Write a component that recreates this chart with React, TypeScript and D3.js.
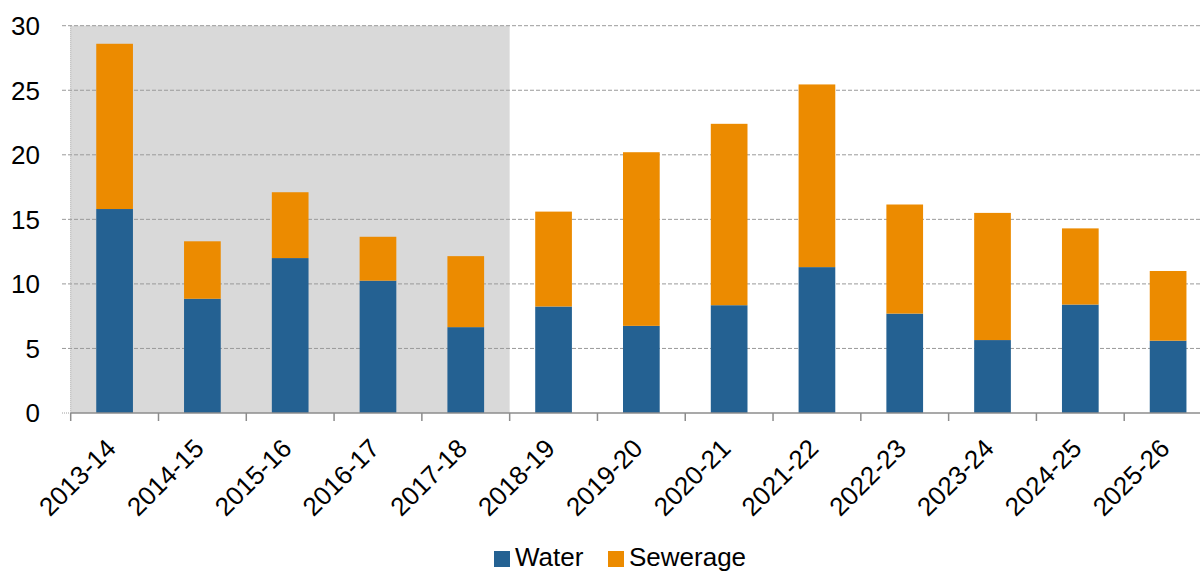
import React, { useEffect, useRef } from "react";
import * as d3 from "d3";

const years = [
  "2013-14", "2014-15", "2015-16", "2016-17", "2017-18", "2018-19", "2019-20",
  "2020-21", "2021-22", "2022-23", "2023-24", "2024-25", "2025-26",
];
const water = [15.8, 8.85, 12.0, 10.25, 6.65, 8.25, 6.75, 8.35, 11.3, 7.7, 5.65, 8.4, 5.6];
const sewerage = [12.8, 4.45, 5.1, 3.4, 5.5, 7.35, 13.45, 14.05, 14.15, 8.45, 9.85, 5.9, 5.4];
const yTicks = [0, 5, 10, 15, 20, 25, 30];
const shadedCount = 5; // outturn years on grey background

const WIDTH = 1200;
const HEIGHT = 572;
const BLUE = "#246192";
const ORANGE = "#ec8b00";
const FONT = "Arial, 'Liberation Sans', sans-serif";

export default function App() {
  const ref = useRef<SVGSVGElement>(null);

  useEffect(() => {
    document.body.style.margin = "0";
    const svg = d3.select(ref.current);
    svg.selectAll("*").remove();

    const left = 70.7, right = 1212, top = 25.7, bottom = 413;

    const x = d3.scaleBand<string>()
      .domain(years)
      .range([left, right])
      .paddingInner(0.582)
      .paddingOuter(0.291);
    const y = d3.scaleLinear().domain([0, 30]).range([bottom, top]);
    const step = x.step();
    const edge = (i: number) => left + i * step;

    // grey background for first years
    svg.append("rect")
      .attr("x", left)
      .attr("y", y(30))
      .attr("width", edge(shadedCount) - left)
      .attr("height", bottom - y(30))
      .attr("fill", "#d9d9d9");

    // gridlines
    svg.append("g")
      .selectAll("line")
      .data(yTicks.filter((t) => t > 0))
      .enter()
      .append("line")
      .attr("x1", 62)
      .attr("x2", right)
      .attr("y1", (d) => y(d))
      .attr("y2", (d) => y(d))
      .attr("stroke", "#9a9a9a")
      .attr("stroke-width", 1)
      .attr("stroke-dasharray", "4,2");

    // left axis (dotted)
    svg.append("line")
      .attr("x1", left).attr("x2", left)
      .attr("y1", y(30)).attr("y2", bottom)
      .attr("stroke", "#a0a0a0")
      .attr("stroke-dasharray", "1,1");
    svg.append("line")
      .attr("x1", 62).attr("x2", left)
      .attr("y1", bottom).attr("y2", bottom)
      .attr("stroke", "#a0a0a0")
      .attr("stroke-dasharray", "1,1");

    // y labels
    svg.append("g")
      .selectAll("text")
      .data(yTicks)
      .enter()
      .append("text")
      .attr("x", 40)
      .attr("y", (d) => y(d))
      .attr("dy", "0.36em")
      .attr("text-anchor", "end")
      .attr("font-family", FONT)
      .attr("font-size", 26)
      .attr("fill", "#000")
      .text((d) => d);

    // stacked bars
    const stackData = years.map((yr, i) => ({ year: yr, water: water[i], sewerage: sewerage[i] }));
    const series = d3.stack<any>().keys(["water", "sewerage"])(stackData);
    const colors = [BLUE, ORANGE];

    series.forEach((s, k) => {
      svg.append("g")
        .selectAll("rect")
        .data(s)
        .enter()
        .append("rect")
        .attr("x", (d: any) => x(d.data.year)!)
        .attr("y", (d) => y(d[1]))
        .attr("width", x.bandwidth())
        .attr("height", (d) => y(d[0]) - y(d[1]))
        .attr("fill", colors[k]);
    });

    // x axis line + ticks
    svg.append("line")
      .attr("x1", left).attr("x2", right)
      .attr("y1", bottom).attr("y2", bottom)
      .attr("stroke", "#8c8c8c")
      .attr("stroke-width", 1.5);
    svg.append("g")
      .selectAll("line")
      .data(d3.range(years.length + 1))
      .enter()
      .append("line")
      .attr("x1", (i) => edge(i))
      .attr("x2", (i) => edge(i))
      .attr("y1", bottom)
      .attr("y2", bottom + 8)
      .attr("stroke", "#8c8c8c")
      .attr("stroke-width", 1.5);

    // x labels
    svg.append("g")
      .selectAll("text")
      .data(years)
      .enter()
      .append("text")
      .attr("transform", (d) => `translate(${x(d)! + x.bandwidth() / 2 + 3},${bottom + 37}) rotate(-45)`)
      .attr("text-anchor", "end")
      .attr("font-family", FONT)
      .attr("font-size", 26)
      .attr("fill", "#000")
      .text((d) => d);

    // legend
    const legend = [
      { label: "Water", color: BLUE, x: 494 },
      { label: "Sewerage", color: ORANGE, x: 608 },
    ];
    const lg = svg.append("g");
    legend.forEach((l) => {
      lg.append("rect")
        .attr("x", l.x)
        .attr("y", 551)
        .attr("width", 16)
        .attr("height", 16)
        .attr("fill", l.color);
      lg.append("text")
        .attr("x", l.x + 21)
        .attr("y", 566)
        .attr("font-family", FONT)
        .attr("font-size", 26)
        .attr("fill", "#000")
        .text(l.label);
    });
  }, []);

  return (
    <svg
      ref={ref}
      width={WIDTH}
      height={HEIGHT}
      style={{ display: "block", background: "#fff" }}
    />
  );
}
